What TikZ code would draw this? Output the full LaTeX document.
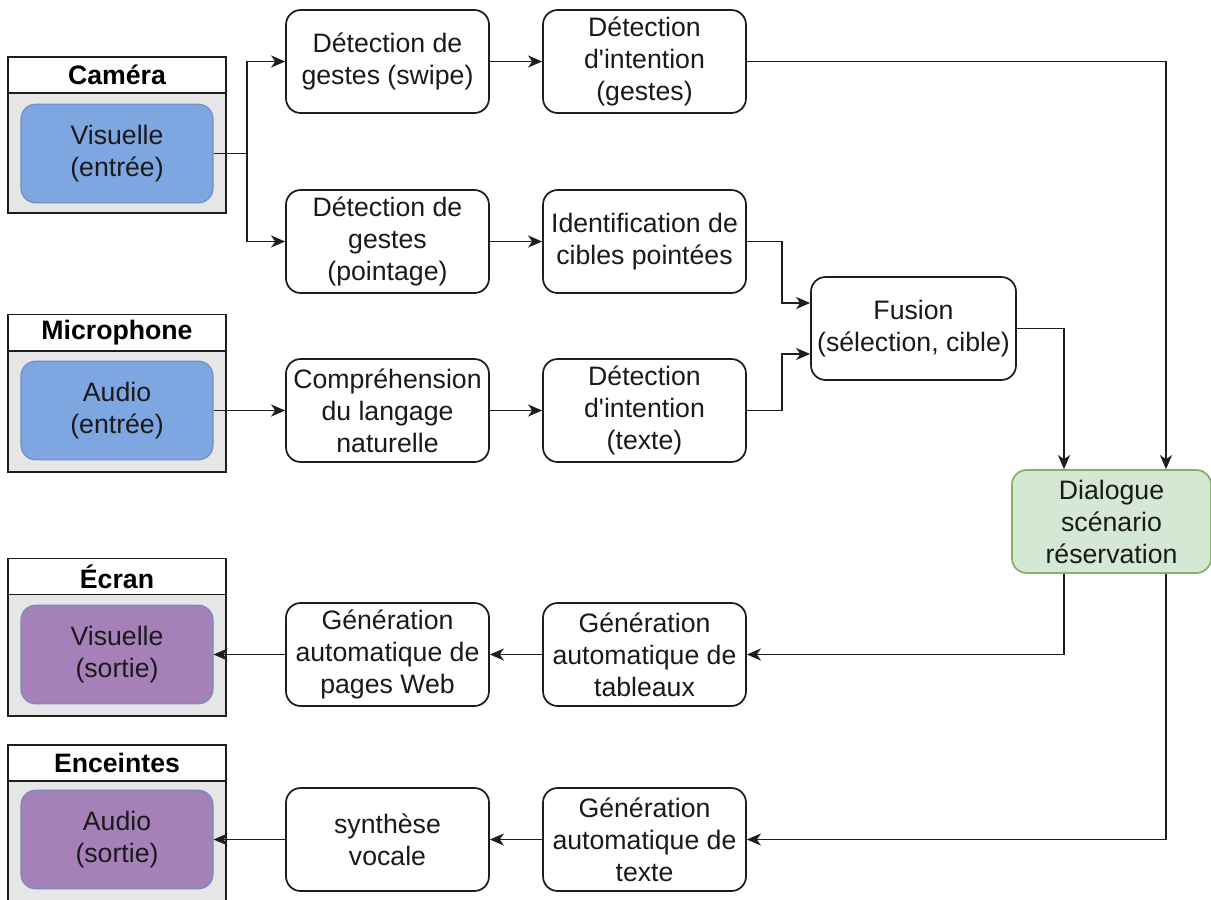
\documentclass[tikz,border=0pt]{standalone}
\usepackage{fontspec}
\setmainfont{Liberation Sans}
\newfontfamily\lib{Liberation Sans}
\usetikzlibrary{arrows.meta,calc}
\definecolor{txt}{HTML}{1A1A1A}
\definecolor{lin}{HTML}{1E1E1E}
\definecolor{grayfill}{HTML}{E6E6E6}
\definecolor{bluefill}{HTML}{7EA6E0}
\definecolor{bluestroke}{HTML}{6C8EBF}
\definecolor{purplefill}{HTML}{A680B8}
\definecolor{greenfill}{HTML}{D5E8D4}
\definecolor{greenstroke}{HTML}{82B366}
\begin{document}
\begin{tikzpicture}[x=0.75pt,y=-0.75pt,
  font=\lib\fontsize{20}{24}\selectfont,
  proc/.style={draw=lin, line width=1.3pt, rounded corners=11pt, fill=white, align=center,
    minimum width=152.25pt, minimum height=77.25pt, inner sep=0pt, text=txt},
  inbox/.style={draw=bluestroke, line width=0.8pt, rounded corners=11pt, align=center,
    minimum width=144pt, minimum height=74pt, inner sep=0pt, text=txt},
  hdr/.style={draw=lin, line width=1.3pt, fill=white, minimum width=163.5pt, minimum height=27pt,
    inner sep=0pt, font=\lib\fontsize{20}{24}\selectfont\bfseries, text=black},
  body/.style={draw=lin, line width=1.3pt, fill=grayfill},
  arr/.style={draw=lin, line width=1.3pt, -{Stealth[length=10.5pt,width=9pt,inset=3pt]}},
  ln/.style={draw=lin, line width=1.3pt}
]
\clip (0,0) rectangle (1211,900);
\fill[white] (0,0) rectangle (1211,900);

% containers
\draw[body] (8,93) rectangle (226,213);
\node[hdr] (hcam) at (117,75) {Caméra};
\node[inbox, fill=bluefill] (vin) at (117,153.5) {Visuelle\\(entrée)};

\draw[body] (8,351) rectangle (226,472);
\node[hdr] (hmic) at (117,332.5) {Microphone};
\node[inbox, fill=bluefill] (ain) at (117,410.5) {Audio\\(entrée)};

\draw[body] (8,594) rectangle (226,716);
\node[hdr] (hecr) at (117,576.5) {Écran};
\node[inbox, fill=purplefill] (vout) at (117,654.5) {Visuelle\\(sortie)};

\draw[body] (8,781) rectangle (226,903);
\node[hdr] (henc) at (117,763) {Enceintes};
\node[inbox, fill=purplefill] (aout) at (117,839.5) {Audio\\(sortie)};

% process boxes
\node[proc] (p1) at (387.5,61.5) {Détection de\\gestes (swipe)};
\node[proc] (q1) at (644.5,61.5) {Détection\\d'intention\\(gestes)};
\node[proc] (p2) at (387.5,241.5) {Détection de\\gestes\\(pointage)};
\node[proc] (q2) at (644.5,241.5) {Identification de\\cibles pointées};
\node[proc] (p3) at (387.5,410.5) {Compréhension\\du langage\\naturelle};
\node[proc] (q3) at (644.5,410.5) {Détection\\d'intention\\(texte)};
\node[proc, minimum width=153.75pt] (fus) at (913.5,328.5) {Fusion\\(sélection, cible)};
\node[proc, draw=greenstroke, fill=greenfill, minimum width=149.25pt] (dial) at (1111.5,521.5) {Dialogue\\scénario\\réservation};
\node[proc] (p4) at (387.5,654.5) {Génération\\automatique de\\pages Web};
\node[proc] (q4) at (644.5,654.5) {Génération\\automatique de\\tableaux};
\node[proc] (p5) at (387.5,839.5) {synthèse\\vocale};
\node[proc] (q5) at (644.5,839.5) {Génération\\automatique de\\texte};

% helper coordinates
\coordinate (j1) at (247,153.5);
\coordinate (xL) at (1064,0);
\coordinate (xR) at (1166,0);

% connectors
\draw[ln] (vin.east) -- (j1);
\draw[arr] (j1) |- (p1.west);
\draw[arr] (j1) |- (p2.west);
\draw[arr] (p1) -- (q1);
\draw[arr] (p2) -- (q2);
\draw[arr] (ain.east) -- (p3.west);
\draw[arr] (p3) -- (q3);
\draw[arr] (q1.east) -| (dial.north -| xR);
\draw[arr] (q2.east) -- ++(35,0) |- ($(fus.west)+(0,-25.5)$);
\draw[arr] (q3.east) -- ++(35,0) |- ($(fus.west)+(0,25.5)$);
\draw[arr] (fus.east) -| (dial.north -| xL);
\draw[arr] (dial.south -| xL) |- (q4.east);
\draw[arr] (dial.south -| xR) |- (q5.east);
\draw[arr] (q4) -- (p4);
\draw[arr] (p4.west) -- (vout.east);
\draw[arr] (q5) -- (p5);
\draw[arr] (p5.west) -- (aout.east);
\end{tikzpicture}
\end{document}
